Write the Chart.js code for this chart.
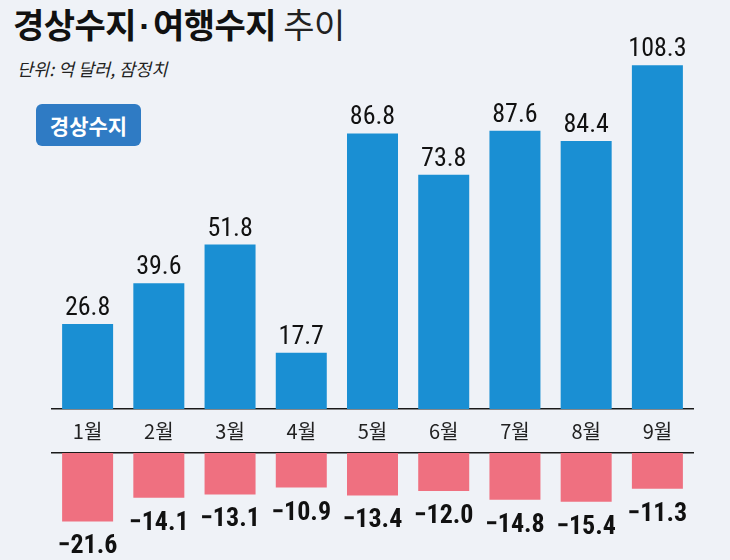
<!DOCTYPE html>
<html><head><meta charset="utf-8">
<script src="https://cdn.jsdelivr.net/npm/chart.js@4"></script>
<style>
html,body{margin:0;padding:0;}
body{width:730px;height:560px;background:#eff2f7;position:relative;overflow:hidden;font-family:"Noto Sans CJK KR","Noto Sans",sans-serif;}
#title{position:absolute;left:13px;top:-1px;font-size:34px;font-weight:700;color:#111;white-space:nowrap;letter-spacing:-0.5px;}
#title .dot{font-family:"Liberation Sans",sans-serif;margin:0 3px;}
#title .light{font-weight:400;color:#222;margin-left:0px;}
#sub{position:absolute;left:17px;top:56px;font-size:17.5px;font-style:italic;color:#222;white-space:nowrap;}
#tag{position:absolute;left:36px;top:104px;width:105px;height:42px;background:#2f7bc4;border-radius:6px;color:#fff;font-size:21px;font-weight:700;text-align:center;line-height:42px;}
#c1{position:absolute;left:0;top:0;}
#c2{position:absolute;left:0;top:443px;}
</style></head><body>
<div id="title">경상수지<span class="dot">·</span>여행수지 <span class="light">추이</span></div>
<div id="sub">단위: 억 달러, 잠정치</div>
<div id="tag">경상수지</div>
<canvas id="c1" width="730" height="453"></canvas>
<canvas id="c2" width="730" height="117"></canvas>
<script>
const months = ['1월','2월','3월','4월','5월','6월','7월','8월','9월'];
const currentAccount = [26.8, 39.6, 51.8, 17.7, 86.8, 73.8, 87.6, 84.4, 108.3];
const travelAccount = [-21.6, -14.1, -13.1, -10.9, -13.4, -12.0, -14.8, -15.4, -11.3];

const numFont = '"Liberation Sans Narrow","Roboto Condensed","Liberation Sans",sans-serif';

function fmt(v){ return (v < 0 ? '\u2212' + Math.abs(v).toFixed(1) : v.toFixed(1)); }

const labelPlugin = (pos, weight) => ({
  id: 'vlabels',
  afterDatasetsDraw(chart){
    const ctx = chart.ctx;
    const meta = chart.getDatasetMeta(0);
    const data = chart.data.datasets[0].data;
    ctx.save();
    ctx.fillStyle = '#111';
    ctx.textAlign = 'center';
    ctx.textBaseline = 'alphabetic';
    ctx.font = weight + ' 26px ' + numFont;
    meta.data.forEach((bar, i) => {
      const y = pos === 'top' ? bar.y - 9 : bar.y + 32;
      ctx.fillText(fmt(data[i]), bar.x, y);
    });
    ctx.restore();
  }
});

new Chart(document.getElementById('c1'), {
  type: 'bar',
  data: { labels: months, datasets: [{ data: currentAccount, backgroundColor: '#1a8fd3', borderWidth: 0 }] },
  options: {
    responsive: false, animation: false,
    layout: { padding: { left: 52, right: 37, top: 28, bottom: 0 } },
    plugins: { legend: { display: false }, tooltip: { enabled: false } },
    datasets: { bar: { categoryPercentage: 1, barPercentage: 0.716 } },
    scales: {
      x: {
        grid: { display: false, drawTicks: false },
        border: { display: true, color: '#1a1a1a', width: 1.6 },
        ticks: { color: '#222', font: { size: 20, family: '"Liberation Sans Narrow","Noto Sans CJK KR",sans-serif' }, padding: 10, maxRotation: 0 },
        afterFit: s => { s.height = 44; }
      },
      y: { display: false, min: 0, max: 120 }
    }
  },
  plugins: [labelPlugin('top', 'normal')]
});

new Chart(document.getElementById('c2'), {
  type: 'bar',
  data: { labels: months, datasets: [{ data: travelAccount, backgroundColor: '#ef7080', borderWidth: 0 }] },
  options: {
    responsive: false, animation: false,
    layout: { padding: { left: 52, right: 37, top: 0, bottom: 12 } },
    plugins: { legend: { display: false }, tooltip: { enabled: false } },
    datasets: { bar: { categoryPercentage: 1, barPercentage: 0.716 } },
    scales: {
      x: {
        position: 'top',
        grid: { display: false, drawTicks: false },
        border: { display: true, color: '#1a1a1a', width: 1.6 },
        ticks: { display: false },
        afterFit: s => { s.height = 10; }
      },
      y: { display: false, min: -30, max: 0 }
    }
  },
  plugins: [labelPlugin('bottom', 'bold')]
});
</script>
</body></html>
